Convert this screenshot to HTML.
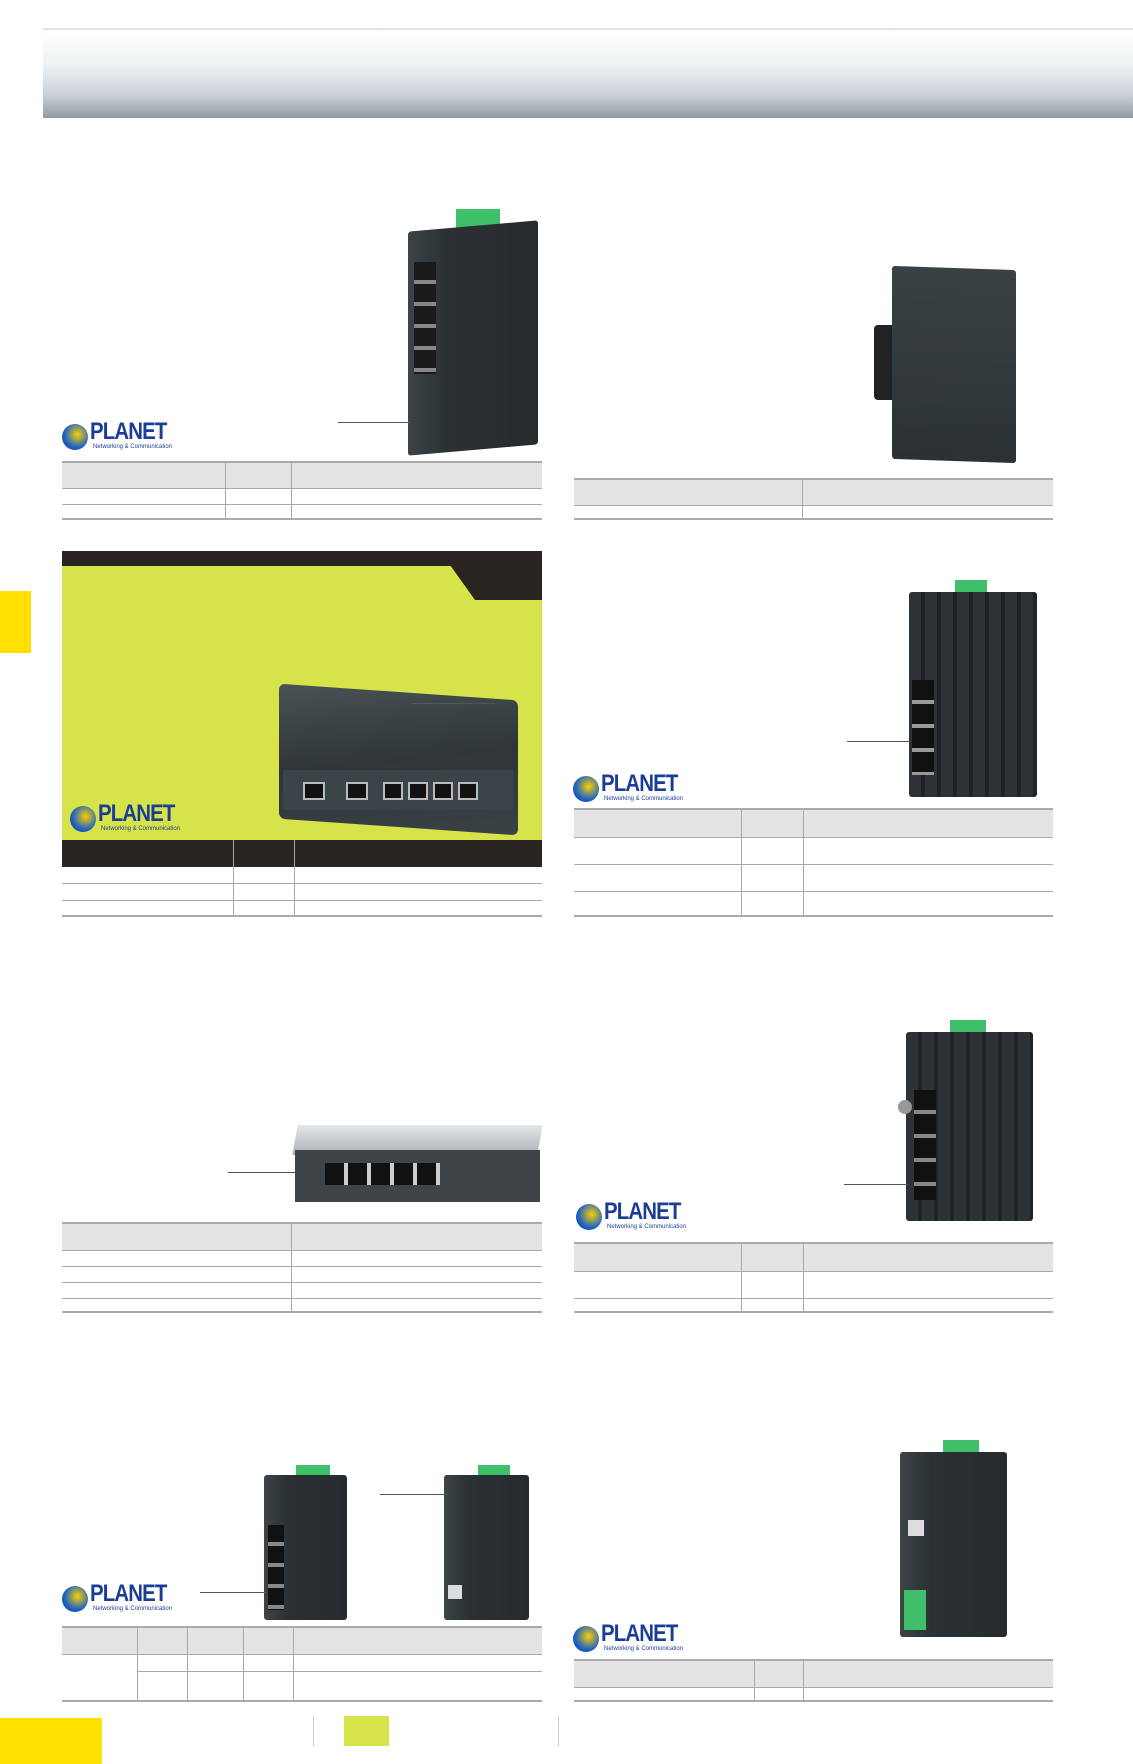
<!DOCTYPE html>
<html><head><meta charset="utf-8"><style>
body{margin:0;width:1133px;height:1764px;background:#fff;position:relative;overflow:hidden;font-family:"Liberation Sans",sans-serif}
div{position:absolute;box-sizing:border-box}
.t{border-top:2px solid #aaa;border-bottom:2px solid #aaa}
.h{background:#e4e4e4}
.r{border-top:1px solid #aaa;left:0;right:0}
.c{border-left:1px solid #aaa;top:0;bottom:0}
.dev{background:linear-gradient(90deg,#3c4448,#2a3034 30%,#262b2e);border-radius:3px}
.ln{height:1px;background:#555}
.port{background:#111;border:2px solid #bbb}
.lg{width:107px;height:34px}
.lg .b{left:0;top:4px;width:26px;height:26px;border-radius:50%;background:radial-gradient(circle at 60% 40%,#fbd000,#1c62c6 60%,#123c8a)}
.lg .p{left:28px;top:-2px;font:bold 24px "Liberation Sans",sans-serif;color:#1a3d96;letter-spacing:-1px;transform:scaleX(.85);transform-origin:left}
.lg .s{left:31px;top:24px;font-size:6px;color:#1a3d96;white-space:nowrap}
.g{background:#3fbf6a}
</style></head><body>
<div style="left:43px;top:28px;width:1090px;height:90px;background:linear-gradient(#fff 0%,#eef2f4 40%,#c9d0d5 75%,#8f9aa2 100%);border-top:2px solid #dfe4e8"></div>
<div style="left:0;top:591px;width:31px;height:62px;background:#ffe000"></div>

<!-- table1 -->
<div class="t" style="left:62px;top:461px;width:480px;height:59px"><div class="h" style="left:0;right:0;top:0;height:25px"></div><div class="r" style="top:25px"></div><div class="r" style="top:41px"></div><div class="c" style="left:163px"></div><div class="c" style="left:229px"></div></div>
<!-- table2 -->
<div class="t" style="left:574px;top:478px;width:479px;height:42px"><div class="h" style="left:0;right:0;top:0;height:25px"></div><div class="r" style="top:25px"></div><div class="c" style="left:228px"></div></div>

<!-- green panel -->
<div style="left:62px;top:551px;width:480px;height:366px;background:#fff"></div>
<div style="left:62px;top:551px;width:480px;height:290px;background:#d6e34a"></div>
<div style="left:62px;top:551px;width:480px;height:15px;background:#2a2420"></div>
<svg style="position:absolute;left:440px;top:565px" width="102" height="35"><polygon points="10,0 102,0 102,35 35,35" fill="#2a2420"/></svg>
<div style="left:62px;top:840px;width:480px;height:77px;border-bottom:2px solid #aaa"><div style="left:0;right:0;top:0;height:27px;background:#2a2420"></div><div class="r" style="top:43px"></div><div class="r" style="top:60px"></div><div class="c" style="left:171px"></div><div class="c" style="left:232px"></div></div>
<div style="left:279px;top:692px;width:239px;height:135px;background:linear-gradient(170deg,#4a5255,#2f3538 50%,#3a4246);border-radius:6px;transform:skewY(4deg)"></div>
<div style="left:283px;top:770px;width:230px;height:40px;background:#3b4448"></div>
<div class="port" style="left:303px;top:782px;width:22px;height:18px"></div><div class="port" style="left:346px;top:782px;width:22px;height:18px"></div>
<div class="port" style="left:383px;top:782px;width:20px;height:18px"></div><div class="port" style="left:408px;top:782px;width:20px;height:18px"></div><div class="port" style="left:433px;top:782px;width:20px;height:18px"></div><div class="port" style="left:458px;top:782px;width:20px;height:18px"></div>
<div class="ln" style="left:411px;top:703px;width:84px"></div>

<!-- table3 -->
<div class="t" style="left:574px;top:808px;width:479px;height:109px"><div class="h" style="left:0;right:0;top:0;height:27px"></div><div class="r" style="top:27px"></div><div class="r" style="top:54px"></div><div class="r" style="top:81px"></div><div class="c" style="left:167px"></div><div class="c" style="left:229px"></div></div>
<!-- table4 -->
<div class="t" style="left:62px;top:1222px;width:480px;height:91px"><div class="h" style="left:0;right:0;top:0;height:26px"></div><div class="r" style="top:26px"></div><div class="r" style="top:42px"></div><div class="r" style="top:58px"></div><div class="r" style="top:74px"></div><div class="c" style="left:229px"></div></div>
<!-- table5 -->
<div class="t" style="left:574px;top:1242px;width:479px;height:71px"><div class="h" style="left:0;right:0;top:0;height:27px"></div><div class="r" style="top:27px"></div><div class="r" style="top:54px"></div><div class="c" style="left:167px"></div><div class="c" style="left:229px"></div></div>
<!-- table6 -->
<div class="t" style="left:62px;top:1626px;width:480px;height:76px"><div class="h" style="left:0;right:0;top:0;height:26px"></div><div class="r" style="top:26px"></div><div style="left:75px;right:0;top:43px;border-top:1px solid #aaa"></div><div class="c" style="left:75px"></div><div class="c" style="left:125px"></div><div class="c" style="left:181px"></div><div class="c" style="left:231px"></div></div>
<!-- table7 -->
<div class="t" style="left:574px;top:1659px;width:479px;height:43px"><div class="h" style="left:0;right:0;top:0;height:26px"></div><div class="r" style="top:26px"></div><div class="c" style="left:180px"></div><div class="c" style="left:229px"></div></div>

<!-- device1 -->
<div class="g" style="left:456px;top:209px;width:44px;height:28px"></div>
<div class="dev" style="left:408px;top:226px;width:130px;height:224px;transform:skewY(-5deg)"></div>
<div style="left:414px;top:262px;width:22px;height:112px;background:repeating-linear-gradient(#1a1a1a 0 18px,#888 18px 22px)"></div>
<div class="ln" style="left:338px;top:422px;width:72px"></div>
<!-- device2 -->
<div style="left:874px;top:325px;width:22px;height:75px;background:#222;border-radius:4px"></div>
<div class="dev" style="left:892px;top:268px;width:124px;height:193px;transform:skewY(2deg);background:linear-gradient(#3a4144,#2b3134)"></div>
<!-- device4 -->
<div class="g" style="left:955px;top:580px;width:32px;height:18px"></div>
<div class="dev" style="left:909px;top:592px;width:128px;height:205px;background:repeating-linear-gradient(90deg,#2c3236 0 12px,#1e2326 12px 16px)"></div>
<div style="left:912px;top:680px;width:22px;height:95px;background:repeating-linear-gradient(#111 0 20px,#999 20px 24px)"></div>
<div class="ln" style="left:847px;top:741px;width:64px"></div>
<!-- desktop switch -->
<div style="left:295px;top:1125px;width:245px;height:30px;background:linear-gradient(#e5e8ea,#a9b0b4);transform:skewX(-10deg)"></div>
<div style="left:295px;top:1150px;width:245px;height:52px;background:#3e4447"></div>
<div style="left:325px;top:1163px;width:115px;height:22px;background:repeating-linear-gradient(90deg,#111 0 19px,#ccc 19px 23px)"></div>
<div class="ln" style="left:228px;top:1172px;width:67px"></div>
<!-- device6 -->
<div class="g" style="left:950px;top:1020px;width:36px;height:18px"></div>
<div class="dev" style="left:906px;top:1032px;width:127px;height:189px;background:repeating-linear-gradient(90deg,#2c3236 0 12px,#1e2326 12px 16px)"></div>
<div style="left:898px;top:1100px;width:14px;height:14px;border-radius:50%;background:#999"></div>
<div style="left:914px;top:1090px;width:22px;height:110px;background:repeating-linear-gradient(#111 0 20px,#888 20px 24px)"></div>
<div class="ln" style="left:844px;top:1184px;width:64px"></div>
<!-- device7a,b -->
<div class="g" style="left:296px;top:1465px;width:34px;height:16px"></div>
<div class="dev" style="left:264px;top:1475px;width:83px;height:145px"></div>
<div style="left:268px;top:1525px;width:16px;height:85px;background:repeating-linear-gradient(#111 0 17px,#888 17px 21px)"></div>
<div class="g" style="left:478px;top:1465px;width:32px;height:16px"></div>
<div class="dev" style="left:444px;top:1475px;width:85px;height:145px"></div>
<div style="left:448px;top:1585px;width:14px;height:14px;background:#ddd"></div>
<div class="ln" style="left:380px;top:1494px;width:68px"></div>
<div class="ln" style="left:200px;top:1592px;width:66px"></div>
<!-- device8 -->
<div class="g" style="left:943px;top:1440px;width:36px;height:18px"></div>
<div class="dev" style="left:900px;top:1452px;width:107px;height:185px"></div>
<div style="left:904px;top:1590px;width:22px;height:40px;background:#3fbf6a"></div>
<div style="left:908px;top:1520px;width:16px;height:16px;background:#ddd"></div>

<!-- logos -->
<div class="lg" style="left:62px;top:420px"><div class="b"></div><div class="p">PLANET</div><div class="s">Networking &amp; Communication</div></div>
<div class="lg" style="left:70px;top:802px"><div class="b"></div><div class="p">PLANET</div><div class="s">Networking &amp; Communication</div></div>
<div class="lg" style="left:573px;top:772px"><div class="b"></div><div class="p">PLANET</div><div class="s">Networking &amp; Communication</div></div>
<div class="lg" style="left:576px;top:1200px"><div class="b"></div><div class="p">PLANET</div><div class="s">Networking &amp; Communication</div></div>
<div class="lg" style="left:62px;top:1582px"><div class="b"></div><div class="p">PLANET</div><div class="s">Networking &amp; Communication</div></div>
<div class="lg" style="left:573px;top:1622px"><div class="b"></div><div class="p">PLANET</div><div class="s">Networking &amp; Communication</div></div>

<!-- footer -->
<div style="left:0;top:1718px;width:102px;height:46px;background:#ffe000"></div>
<div style="left:344px;top:1716px;width:45px;height:30px;background:#d6e34a"></div>
<div style="left:313px;top:1716px;width:1px;height:30px;background:#ccc"></div>
<div style="left:558px;top:1716px;width:1px;height:30px;background:#ccc"></div>
</body></html>
